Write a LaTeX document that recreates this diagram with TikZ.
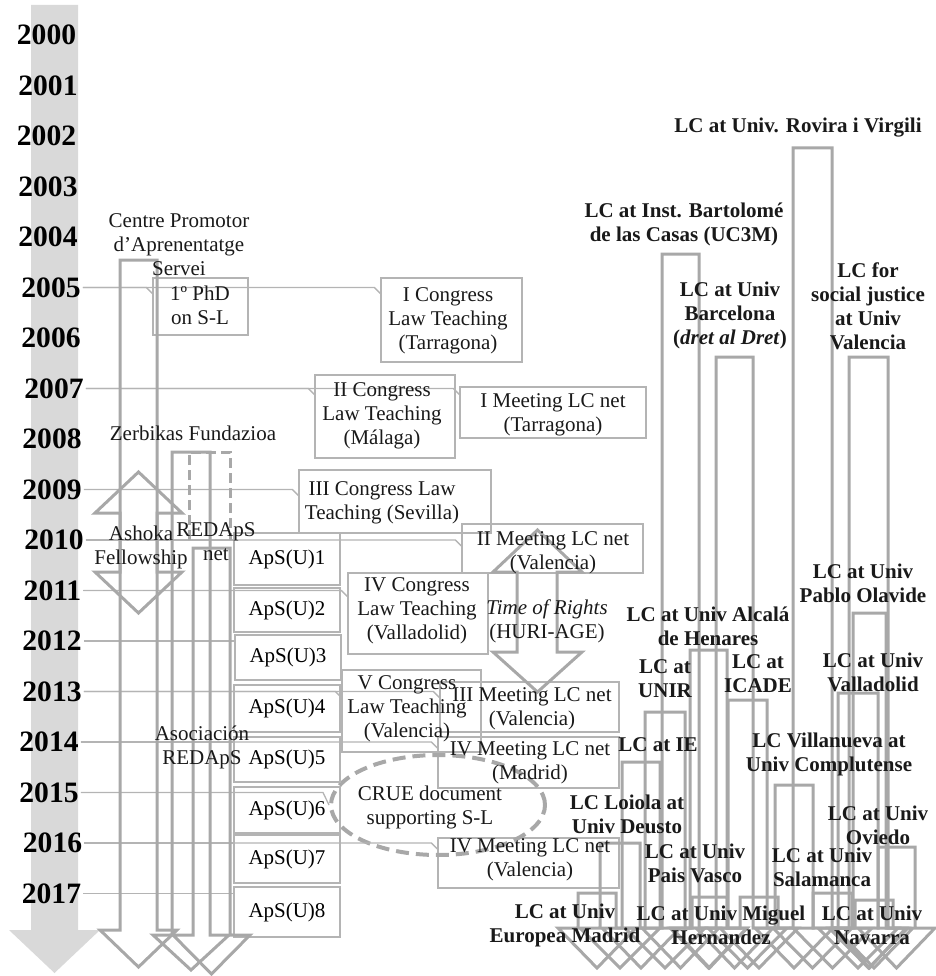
\documentclass[tikz,border=0pt]{standalone}
\usepackage{fontspec}
\setmainfont{Liberation Serif}
\usetikzlibrary{shapes.geometric,calc}
\definecolor{tlgrey}{HTML}{D9D9D9}
\definecolor{argrey}{HTML}{A8A8A8}
\definecolor{bxgrey}{HTML}{B4B4B4}
% open block arrow pointing down: left, right, top, base, tip, wing
\newcommand\openarrow[6]{\draw[arr] (#1,#4) -- (#1,#3) -- (#2,#3) -- (#2,#4) -- (#2+#6,#4) -- ({(#1+#2)/2},#5) -- (#1-#6,#4) -- cycle;}
\newcommand\yconn[2]{\draw[conn] (#1.east) -- ([xshift=-6pt]#2.west |- #1.east) -- ([yshift=-6pt]#2.west |- #1.east);}
\newcommand\yflat[2]{\draw[conn] (#1.east) -- (#2.west |- #1.east);}
\begin{document}
\begin{tikzpicture}[x=1pt,y=-1pt,
  arr/.style={draw=argrey,line width=3pt,line join=miter},
  conn/.style={draw=bxgrey,line width=1.3pt},
  box/.style={draw=bxgrey,line width=1.3pt,rectangle,inner sep=0pt,font=\fontsize{21}{24}\selectfont},
  txt/.style={align=center,inner sep=0pt,font=\fontsize{21}{24}\selectfont,text=black!90},
  lc/.style={align=center,inner sep=0pt,font=\fontsize{21}{24}\selectfont\bfseries,text=black!90},
  year/.style={inner sep=2pt,font=\fontsize{29.6}{30}\selectfont\bfseries}]
\useasboundingbox (0,0) rectangle (935,976);
% timeline
\fill[tlgrey] (31,5) -- (78,5) -- (78,930) -- (100,930) -- (54.5,973) -- (9,930) -- (31,930) -- cycle;
\foreach \yr/\xx [count=\i from 0] in {2000/46.5,2001/48,2002/46.5,2003/48,2004/48,2005/51,2006/51,2007/54,2008/52,2009/52,2010/54,2011/52.5,2012/52,2013/52,2014/49,2015/49,2016/52.5,2017/51.5}
  \node[year] (y\yr) at (\xx,35+50.5*\i) {\yr};
% boxes
\node[box,minimum width=95,minimum height=57] (phd) at (200.5,306.5) {};
\node[box,minimum width=141,minimum height=84] (congI) at (451.5,320) {};
\node[box,minimum width=140,minimum height=83] (congII) at (385,416.5) {};
\node[box,minimum width=186,minimum height=51] (meetI) at (553,412.5) {};
\node[box,minimum width=192,minimum height=63] (congIII) at (395,501.5) {};
\node[box,minimum width=181,minimum height=49] (meetII) at (552.5,548.5) {};
\node[box,minimum width=140,minimum height=81] (congIV) at (418,613.5) {};
\node[box,minimum width=139,minimum height=82] (congV) at (411.5,711) {};
\node[box,minimum width=179,minimum height=50] (meetIII) at (529.5,707) {};
\node[box,minimum width=181,minimum height=51] (meetIV) at (528.5,762.5) {};
\node[box,minimum width=181,minimum height=50] (meetIVb) at (528.5,863) {};
\node[draw=argrey,line width=4pt,dash pattern=on 13pt off 7pt,ellipse,minimum width=214,minimum height=100,inner sep=0pt] (crue) at (438,805) {};
\node[box,minimum width=106,minimum height=52] (aps1) at (287,559) {ApS(U)1};
\node[box,minimum width=106,minimum height=44] (aps2) at (287,610) {ApS(U)2};
\node[box,minimum width=106,minimum height=45] (aps3) at (288,657.5) {ApS(U)3};
\node[box,minimum width=106,minimum height=47] (aps4) at (287,708.5) {ApS(U)4};
\node[box,minimum width=106,minimum height=45] (aps5) at (287,759.5) {ApS(U)5};
\node[box,minimum width=106,minimum height=46] (aps6) at (287,810) {ApS(U)6};
\node[box,minimum width=106,minimum height=48] (aps7) at (287,859) {ApS(U)7};
\node[box,minimum width=106,minimum height=50] (aps8) at (287,912) {ApS(U)8};
% connectors from years
\yconn{y2005}{phd}
\yconn{y2005}{congI}
\yconn{y2007}{congII}
\yconn{y2007}{meetI}
\yconn{y2009}{congIII}
\yflat{y2010}{aps1}
\yconn{y2010}{meetII}
\yflat{y2011}{aps2}
\yconn{y2011}{congIV}
\yflat{y2012}{aps3}
\yflat{y2013}{aps4}
\yconn{y2013}{congV}
\yconn{y2013}{meetIII}
\yflat{y2014}{aps5}
\yconn{y2014}{meetIV}
\yflat{y2015}{aps6}
\draw[conn] (y2015.east) -- ([xshift=-6pt]crue.west |- y2015.east) -- (crue.west);
\yflat{y2016}{aps7}
\yconn{y2016}{meetIVb}
\yflat{y2017}{aps8}
% left block arrows
\openarrow{120}{157}{260}{930}{967}{20}
\openarrow{172}{210}{452}{935}{970}{19}
\openarrow{193}{230}{548}{935}{974}{20}
\draw[arr,dashed,dash pattern=on 10pt off 5pt] (189,540) -- (189,452) -- (230,452) -- (230,540);
% Ashoka double arrow
\draw[arr] (138.5,472) -- (182,513) -- (157,513) -- (157,572) -- (182,572) -- (138.5,613) -- (95,572) -- (120,572) -- (120,513) -- (95,513) -- cycle;
% Time of Rights double arrow
\draw[arr] (537.5,530) -- (582,572) -- (557,572) -- (557,652) -- (582,652) -- (537.5,692) -- (493,652) -- (517,652) -- (517,572) -- (493,572) -- cycle;
% LC bars
\openarrow{662}{699}{254}{928}{968}{20}
\openarrow{716}{753}{357}{928}{968}{20}
\openarrow{793}{832}{148}{928}{968}{20}
\openarrow{849}{888}{357}{928}{968}{20}
\openarrow{853}{886}{613}{928}{968}{20}
\openarrow{690}{727}{650}{928}{968}{20}
\openarrow{728}{767}{700}{928}{968}{20}
\openarrow{645}{685}{712}{928}{968}{20}
\openarrow{838}{878}{693}{928}{968}{20}
\openarrow{622}{660}{762}{928}{968}{20}
\openarrow{775}{813}{785}{928}{968}{20}
\openarrow{600}{640}{843}{928}{968}{20}
\openarrow{878}{915}{847}{928}{968}{20}
\openarrow{692}{727}{897}{928}{968}{20}
\openarrow{813}{852}{893}{928}{968}{20}
\openarrow{578}{616}{893}{928}{968}{20}
\openarrow{740}{778}{897}{928}{968}{20}
\openarrow{855}{893}{900}{928}{968}{20}
% texts
\node[txt] (cpt) at (179,245) {Centre Promotor\\d’Aprenentatge\\Servei};
\node[txt] (phdt) at (200,305.5) {1º PhD\\on S-L};
\node[txt] (congIt) at (448,321) {I Congress\\Law Teaching\\(Tarragona)};
\node[txt] (congIIt) at (382,416) {II Congress\\Law Teaching\\(Málaga)};
\node[txt] (meetIt) at (553,415) {I Meeting LC net\\(Tarragona)};
\node[txt] (zerb) at (193,433) {Zerbikas Fundazioa};
\node[txt] (congIIIt) at (382,503) {III Congress Law\\Teaching (Sevilla)};
\node[txt] (ashoka) at (141,547.5) {Ashoka\\Fellowship};
\node[txt] (redapsnet) at (216,541.5) {REDApS\\net};
\node[txt] (meetIIt) at (553,552.5) {II Meeting LC net\\(Valencia)};
\node[txt] (congIVt) at (417,611) {IV Congress\\Law Teaching\\(Valladolid)};
\node[txt] (tor) at (547,621.5) {\textit{Time of Rights}\\(HURI-AGE)};
\node[txt] (congVt) at (407,709) {V Congress\\Law Teaching\\(Valencia)};
\node[txt] (meetIIIt) at (532,708.5) {III Meeting LC net\\(Valencia)};
\node[txt] (asoc) at (202,747.5) {Asociación\\REDApS};
\node[txt] (meetIVt) at (530,762.5) {IV Meeting LC net\\(Madrid)};
\node[txt] (cruet) at (430,807.5) {CRUE document\\supporting S-L};
\node[txt] (meetIVbt) at (530,860) {IV Meeting LC net\\(Valencia)};
% LC labels
\node[lc] (lrov) at (798,128) {LC at Univ. Rovira i Virgili};
\node[lc] (luc3m) at (684,224) {LC at Inst. Bartolomé\\de las Casas (UC3M)};
\node[lc] (lbcn) at (730,315) {LC at Univ\\Barcelona\\(\textit{dret al Dret})};
\node[lc] (lval) at (868,306.5) {LC for\\social justice\\at Univ\\Valencia};
\node[lc] (lpo) at (863,583) {LC at Univ\\Pablo Olavide};
\node[lc] (lalc) at (708,626.5) {LC at Univ Alcalá\\de Henares};
\node[lc] (licade) at (758,674) {LC at\\ICADE};
\node[lc] (lunir) at (665,679) {LC at\\UNIR};
\node[lc] (lvll) at (873,672.5) {LC at Univ\\Valladolid};
\node[lc] (lie) at (658,745) {LC at IE};
\node[lc] (lcomp) at (829,754) {LC Villanueva at\\Univ Complutense};
\node[lc] (ldeu) at (627,814.5) {LC Loiola at\\Univ Deusto};
\node[lc] (lovi) at (878,825) {LC at Univ\\Oviedo};
\node[lc] (lpv) at (695,863.5) {LC at Univ\\Pais Vasco};
\node[lc] (lsal) at (822,867.5) {LC at Univ\\Salamanca};
\node[lc] (leur) at (565,925.5) {LC at Univ\\Europea Madrid};
\node[lc] (lmh) at (721,925.5) {LC at Univ Miguel\\Hernandez};
\node[lc] (lnav) at (872,925.5) {LC at Univ\\Navarra};
\end{tikzpicture}
\end{document}
